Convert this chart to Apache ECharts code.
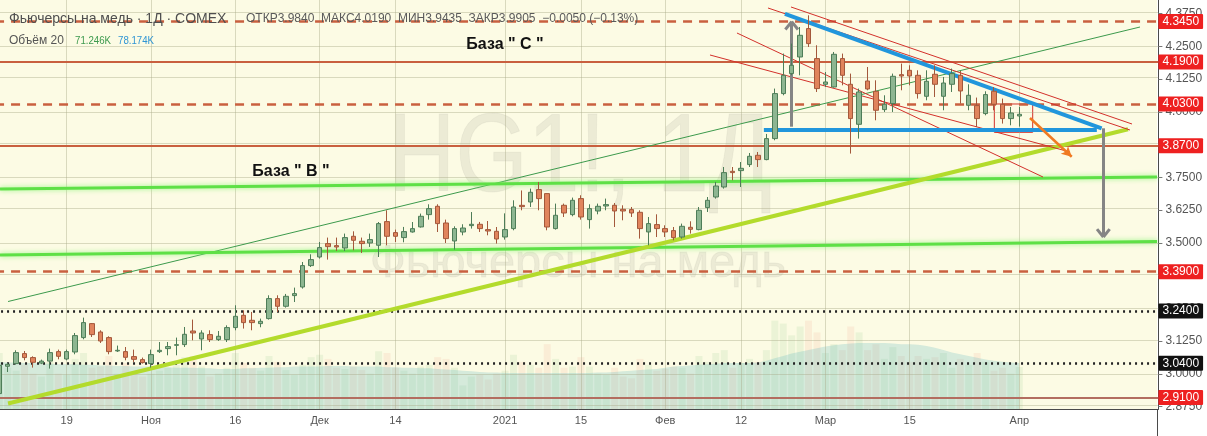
<!DOCTYPE html>
<html>
<head>
<meta charset="utf-8">
<script src="https://cdn.jsdelivr.net/npm/echarts@6/dist/echarts.min.js"></script>
<style>
html,body{margin:0;padding:0;background:#fff;}
#c{width:1207px;height:436px;}
</style>
</head>
<body>
<div id="c"></div>
<script>
// Trading days shown on the chart (COMEX copper, daily)
const dates = [
 '2020-10-07','2020-10-08','2020-10-09','2020-10-12','2020-10-13','2020-10-14','2020-10-15','2020-10-16',
 '2020-10-19','2020-10-20','2020-10-21','2020-10-22','2020-10-23','2020-10-26','2020-10-27','2020-10-28','2020-10-29','2020-10-30',
 '2020-11-02','2020-11-03','2020-11-04','2020-11-05','2020-11-06','2020-11-09','2020-11-10','2020-11-11','2020-11-12','2020-11-13',
 '2020-11-16','2020-11-17','2020-11-18','2020-11-19','2020-11-20','2020-11-23','2020-11-24','2020-11-25','2020-11-27','2020-11-30',
 '2020-12-01','2020-12-02','2020-12-03','2020-12-04','2020-12-07','2020-12-08','2020-12-09','2020-12-10','2020-12-11',
 '2020-12-14','2020-12-15','2020-12-16','2020-12-17','2020-12-18','2020-12-21','2020-12-22','2020-12-23','2020-12-24',
 '2020-12-28','2020-12-29','2020-12-30','2020-12-31',
 '2021-01-04','2021-01-05','2021-01-06','2021-01-07','2021-01-08','2021-01-11','2021-01-12','2021-01-13','2021-01-14','2021-01-15',
 '2021-01-19','2021-01-20','2021-01-21','2021-01-22','2021-01-25','2021-01-26','2021-01-27','2021-01-28','2021-01-29',
 '2021-02-01','2021-02-02','2021-02-03','2021-02-04','2021-02-05','2021-02-08','2021-02-09','2021-02-10','2021-02-11','2021-02-12',
 '2021-02-16','2021-02-17','2021-02-18','2021-02-19','2021-02-22','2021-02-23','2021-02-24','2021-02-25','2021-02-26',
 '2021-03-01','2021-03-02','2021-03-03','2021-03-04','2021-03-05','2021-03-08','2021-03-09','2021-03-10','2021-03-11','2021-03-12',
 '2021-03-15','2021-03-16','2021-03-17','2021-03-18','2021-03-19','2021-03-22','2021-03-23','2021-03-24','2021-03-25','2021-03-26',
 '2021-03-29','2021-03-30','2021-03-31','2021-04-01'
];
// Empty slots to the right of the last bar
const futureDates = [
 '2021-04-05','2021-04-06','2021-04-07','2021-04-08','2021-04-09','2021-04-12','2021-04-13','2021-04-14',
 '2021-04-15','2021-04-16','2021-04-19','2021-04-20','2021-04-21','2021-04-22','2021-04-23','2021-04-26'
];

// [open, high, low, close]
const ohlc = [
 [2.9245,3.0400,2.9200,3.0325],[3.0287,3.0413,3.0069,3.0363],[3.0390,3.0897,3.0350,3.0809],[3.0772,3.0871,3.0516,3.0619],
 [3.0619,3.0668,3.0237,3.0439],[3.0408,3.0542,3.0370,3.0485],[3.0485,3.0962,3.0199,3.0809],[3.0847,3.0924,3.0553,3.0668],
 [3.0565,3.0924,3.0516,3.0847],[3.0833,3.1558,3.0745,3.1458],[3.1382,3.2145,3.1317,3.1954],[3.1916,3.1939,3.1405,3.1496],
 [3.1596,3.1661,3.1176,3.1252],[3.1382,3.1432,3.0745,3.0847],[3.0872,3.1077,3.0833,3.0898],[3.0847,3.1023,3.0516,3.0630],
 [3.0657,3.0924,3.0451,3.0553],[3.0542,3.0619,3.0390,3.0428],
 [3.0390,3.0924,3.0237,3.0733],[3.0847,3.1214,3.0794,3.0897],[3.0962,3.1214,3.0707,3.1039],[3.1087,3.1382,3.0707,3.1113],
 [3.1115,3.1787,3.1023,3.1508],[3.1634,3.2069,3.1279,3.1558],[3.1329,3.1661,3.0897,3.1558],[3.1496,3.1661,3.1214,3.1306],
 [3.1306,3.1634,3.1254,3.1432],[3.1306,3.1850,3.1214,3.1764],
 [3.1764,3.2615,3.1661,3.2195],[3.2233,3.2424,3.1726,3.1954],[3.2042,3.2361,3.1661,3.1954],[3.1916,3.2107,3.1776,3.2004],
 [3.2107,3.2997,3.2069,3.2871],[3.2871,3.2997,3.2359,3.2577],[3.2577,3.3048,3.2526,3.2958],[3.2985,3.3290,3.2740,3.3061],
 [3.3313,3.4268,3.3252,3.4130],[3.4130,3.4562,3.4077,3.4359],
 [3.4458,3.5031,3.4397,3.4817],[3.4970,3.5199,3.4359,3.4855],[3.4893,3.5199,3.4687,3.4840],[3.4802,3.5352,3.4687,3.5199],
 [3.5249,3.5439,3.4714,3.5096],[3.5058,3.5199,3.4611,3.4970],[3.4993,3.5352,3.4842,3.5122],[3.4905,3.5794,3.4458,3.5733],
 [3.5809,3.6241,3.4905,3.5249],
 [3.5389,3.5504,3.5031,3.5249],[3.5199,3.5606,3.5019,3.5427],[3.5414,3.5794,3.5389,3.5541],[3.5606,3.6115,3.5581,3.6012],
 [3.6076,3.6470,3.5885,3.6305],[3.6393,3.6470,3.5412,3.5733],[3.5756,3.5885,3.4993,3.5160],[3.5069,3.5630,3.4741,3.5542],
 [3.5412,3.5708,3.5287,3.5565],[3.5656,3.6174,3.5542,3.5707],[3.5707,3.5796,3.5414,3.5542],[3.5504,3.5832,3.5287,3.5450],
 [3.5439,3.5603,3.4970,3.5145],
 [3.5222,3.6124,3.5122,3.5504],[3.5542,3.6622,3.5478,3.6367],[3.6430,3.6998,3.6241,3.6380],[3.6558,3.7069,3.6367,3.6928],
 [3.7031,3.7322,3.6241,3.6687],[3.6878,3.6890,3.5478,3.5603],[3.5542,3.6496,3.5504,3.6050],[3.6432,3.6496,3.5985,3.6138],
 [3.6076,3.6725,3.6012,3.6622],[3.6687,3.6814,3.5885,3.5985],
 [3.5885,3.6470,3.5542,3.6305],[3.6214,3.6496,3.6088,3.6393],[3.6405,3.6687,3.6241,3.6458],[3.6432,3.6519,3.5603,3.6214],
 [3.6279,3.6432,3.5859,3.6214],[3.6267,3.6367,3.5985,3.6138],[3.6164,3.6241,3.5160,3.5542],[3.5414,3.5985,3.4905,3.5733],
 [3.5695,3.6088,3.5221,3.5542],
 [3.5542,3.5668,3.5221,3.5414],[3.5466,3.5603,3.5096,3.5199],[3.5221,3.5733,3.5160,3.5630],[3.5592,3.5821,3.5352,3.5516],
 [3.5504,3.6367,3.5478,3.6241],[3.6344,3.6748,3.6176,3.6622],[3.6748,3.7322,3.6687,3.7168],[3.7130,3.7893,3.7069,3.7679],
 [3.7729,3.7893,3.7386,3.7679],[3.7755,3.8084,3.7130,3.7843],
 [3.7985,3.8428,3.7893,3.8302],[3.8340,3.8466,3.7893,3.8176],[3.8176,3.9155,3.8150,3.8977],[3.8977,4.0886,3.8913,4.0695],
 [4.0695,4.2222,4.0630,4.1393],[4.1458,4.2603,4.1393,4.1775],[4.2092,4.3237,4.1393,4.2920],[4.3176,4.3683,4.2474,4.2603],
 [4.2031,4.2539,4.0756,4.0886],
 [4.1050,4.1519,4.0947,4.1138],[4.0947,4.2283,4.0924,4.2195],[4.2031,4.2222,4.1012,4.1393],[4.1050,4.1458,3.8405,3.9741],
 [3.9523,4.0886,3.8977,4.0756],[4.1176,4.1710,4.0821,4.0871],[4.0782,4.1202,3.9676,4.0058],[4.0084,4.0630,3.9993,4.0287],
 [4.0313,4.1458,3.9993,4.1355],[4.1418,4.1840,4.0821,4.1367],
 [4.1584,4.1775,4.1012,4.1367],[4.1393,4.1584,4.0504,4.0695],[4.0592,4.1584,4.0439,4.1164],[4.1432,4.1775,4.0565,4.1050],
 [4.0592,4.1329,4.0058,4.1099],[4.1050,4.1650,4.0756,4.1458],[4.1393,4.1558,4.0313,4.0795],[4.0248,4.1050,4.0058,4.0630],
 [4.0237,4.0543,3.9420,3.9741],[3.9932,4.0783,3.9866,4.0657],
 [4.0783,4.0947,4.0058,4.0287],[4.0287,4.0504,3.9550,3.9741],[3.9741,4.0184,3.9485,3.9955],[3.9840,4.0190,3.9435,3.9905]
];

// Daily volume, thousands of contracts
const volume = [
 95,70,65,75,60,55,80,60,
 58,85,95,70,72,90,60,78,62,55,
 60,65,70,75,88,90,72,55,60,70,
 95,78,70,65,90,80,66,58,75,88,
 92,85,70,68,72,66,60,98,95,
 70,65,60,72,75,88,85,70,40,55,58,50,60,
 65,92,80,75,70,110,85,70,72,88,
 72,60,58,70,55,52,85,75,65,
 68,72,70,60,90,80,95,100,70,78,
 85,80,100,150,145,125,140,150,130,
 95,110,100,140,130,100,110,85,105,90,
 80,90,85,88,95,70,85,75,95,80,
 65,70,60,71.246
];
// Volume 20-period average, thousands
const volumeMA = [
 80,79,79,78,78,77,77,76,
 76,76,75,75,74,74,73,73,72,72,
 72,71,71,70,70,70,69,69,68,68,
 68,69,69,70,70,71,71,72,72,72,
 72,73,73,73,72,72,72,72,71,
 71,70,70,69,69,68,67,66,65,64,63,62,62,
 61,61,61,61,61,61,61,61,61,61,
 61,62,62,63,64,65,66,67,68,
 70,72,73,74,75,76,77,78,78,78,
 78,79,82,86,90,94,97,100,103,
 106,108,110,111,112,112,112,112,111,110,
 110,109,107,104,100,96,93,90,87,84,
 82,80,79,78.174
];

const xTickLabels = {
 '2020-10-19':'19','2020-11-02':'Ноя','2020-11-16':'16','2020-12-01':'Дек','2020-12-14':'14',
 '2021-01-04':'2021','2021-01-15':'15','2021-02-01':'Фев','2021-02-12':'12','2021-03-01':'Мар',
 '2021-03-15':'15','2021-04-01':'Апр'
};
const priceTicks = [2.875,3.0,3.125,3.25,3.375,3.5,3.625,3.75,3.875,4.0,4.125,4.25,4.375];

// Horizontal levels marked on the chart
const levelPrices = [4.3450, 4.1900, 4.0300, 3.8700, 3.3900, 3.2400, 3.0400, 2.9100];
const lastPrice = 3.9905;

// Trend lines and annotations: [bar index, price] pairs (bar 0 = 2020-10-19)
const trendThinGreen = [[-6.96, 3.2759], [127.32, 4.3236]];
const trendSupport = [[-6.96, 2.8865], [125.9, 3.9332]];
const channelGreenUpper = [[-7.91, 3.7053], [129.34, 3.7511]];
const channelGreenLower = [[-7.91, 3.4534], [129.34, 3.5052]];
const triangleTop = [[85.2, 4.3733], [122.77, 3.9370]];
const triangleBase = [[82.7, 3.9305], [122.2, 3.9305]];
const redChannel = [
 [[83.19, 4.3962], [126.13, 3.9305]],
 [[85.92, 4.4000], [126.37, 3.9534]],
 [[79.51, 4.3007], [115.81, 3.7511]],
 [[76.31, 4.2168], [119.02, 3.8466]]
];
const arrowUp = [[86.0, 3.9431], [86.0, 4.3440]];
const arrowDown = [[122.97, 3.9370], [122.97, 3.5221]];
const arrowForecast = [[114.27, 3.9763], [119.22, 3.8286]];
const boxRecent = [[110.04, 4.0298], [114.59, 3.9217]];

// ---------------------------------------------------------------
const categories = dates.concat(futureDates);
const N = categories.length;
const BAND = 8.43;
const GRID_LEFT = -4.95;
const GRID_W = N * BAND;
const PLOT_H = 409;
const P_MIN = 2.8657, P_MAX = 4.4267;
const FIRST = -8; // index of first bar relative to 2020-10-19
const XMAX = FIRST + N - 0.5;

const UP_FILL = '#8db691', UP_LINE = '#4e7d58';
const DN_FILL = '#e0845c', DN_LINE = '#a3583b';

const candleData = ohlc.map(d => [d[0], d[3], d[2], d[1]]);
const volData = volume.map((v, i) => ({
  value: v * 1000,
  itemStyle: { color: ohlc[i][3] >= ohlc[i][0] ? 'rgba(150,205,140,0.16)' : 'rgba(240,170,140,0.16)' }
}));
const maData = volumeMA.map(v => v * 1000);

function seg(a, style, startExtra, endExtra) {
  return [Object.assign({ coord: a[0], lineStyle: style }, startExtra || {}),
          Object.assign({ coord: a[1] }, endExtra || {})];
}
function chevron(tip, dir, color) {
  const dx = 0.75, dp = 0.03 * dir;
  return [
    seg([[tip[0] - dx, tip[1] - dp], tip], { color, width: 3, type: 'solid' }),
    seg([[tip[0] + dx, tip[1] - dp], tip], { color, width: 3, type: 'solid' })
  ];
}

const RED = '#c9603f';
const TAG_FONT = 'Liberation Sans, Arial, sans-serif';
const levelLook = {
  '4.345': { type: [9, 7], width: 2.5, color: RED, tag: '#ee2020' },
  '4.19':  { type: 'solid', width: 2, color: RED, tag: '#ee2020' },
  '4.03':  { type: [9, 7], width: 2.5, color: RED, tag: '#ee2020' },
  '3.87':  { type: 'solid', width: 2, color: RED, tag: '#ee2020' },
  '3.39':  { type: [9, 7], width: 2.5, color: RED, tag: '#ee2020' },
  '3.24':  { type: [2, 4], width: 2.5, color: '#222', tag: '#111' },
  '3.04':  { type: [2, 4], width: 2.5, color: '#222', tag: '#111' },
  '2.91':  { type: 'solid', width: 2, color: '#b36d60', tag: '#ee2020' }
};
function tag(text, bg) {
  return { show: true, position: 'end', distance: 0, formatter: text, backgroundColor: bg, color: '#fff',
    fontSize: 12, fontFamily: TAG_FONT, padding: [2, 4, 1, 4], borderRadius: 1 };
}

const levelLines = levelPrices.map(p => {
  const s = levelLook[String(p)];
  return [
    { coord: [FIRST - 0.5, p], lineStyle: { type: s.type, width: s.width, color: s.color }, label: tag(p.toFixed(4), s.tag) },
    { coord: [XMAX, p] }
  ];
});
levelLines.push([
  { coord: [XMAX - 0.05, lastPrice], lineStyle: { width: 0, opacity: 0 }, label: tag(lastPrice.toFixed(4), '#6d9c7d') },
  { coord: [XMAX, lastPrice] }
]);

const drawings = [
  seg(trendThinGreen, { color: '#3c9a4c', width: 1, type: 'solid' }),
  seg(channelGreenUpper, { color: '#5ee046', width: 3, type: 'solid', shadowColor: 'rgba(140,245,120,0.9)', shadowBlur: 5 }),
  seg(channelGreenLower, { color: '#5ee046', width: 3, type: 'solid', shadowColor: 'rgba(140,245,120,0.9)', shadowBlur: 5 }),
  seg(trendSupport, { color: '#b3db2c', width: 4, type: 'solid' }),
  ...redChannel.map(l => seg(l, { color: '#d3312b', width: 1, type: 'solid' })),
  seg(triangleTop, { color: '#2196dc', width: 4, type: 'solid' }),
  seg(triangleBase, { color: '#2196dc', width: 4, type: 'solid' }),
  seg(arrowUp, { color: '#858585', width: 3, type: 'solid' }),
  ...chevron(arrowUp[1], 1, '#858585'),
  seg(arrowDown, { color: '#858585', width: 3, type: 'solid' }),
  ...chevron(arrowDown[1], -1, '#858585'),
  seg(arrowForecast, { color: '#f07a22', width: 2.5, type: 'solid' }, { symbol: 'none' }, { symbol: 'arrow', symbolSize: [8, 10] })
];

const gridLines = priceTicks.map(p => ({ yAxis: p }))
  .concat(Object.keys(xTickLabels).map(d => ({ xAxis: d })));

const chart = echarts.init(document.getElementById('c'), null, { renderer: 'canvas', width: 1207, height: 436 });
const font = 'Liberation Sans, Arial, sans-serif';

chart.setOption({
  backgroundColor: '#ffffff',
  animation: false,
  grid: [
    { left: GRID_LEFT, top: 0, width: GRID_W, height: PLOT_H, containLabel: false, outerBoundsMode: 'none' },
    { left: GRID_LEFT, top: 300, width: GRID_W, height: PLOT_H - 300, containLabel: false, outerBoundsMode: 'none' }
  ],
  xAxis: [
    {
      type: 'category', data: categories, gridIndex: 0, boundaryGap: true,
      axisLine: { onZero: false, lineStyle: { color: '#4a4a4a', width: 1 } },
      axisTick: { alignWithLabel: true, length: 4, lineStyle: { color: '#777' },
        interval: (i, v) => xTickLabels[v] !== undefined },
      axisLabel: { interval: (i, v) => xTickLabels[v] !== undefined, formatter: v => xTickLabels[v] || '',
        color: '#555', fontSize: 11, fontFamily: font, margin: 6 },
      splitLine: { show: false }
    },
    { type: 'value', gridIndex: 0, min: FIRST - 0.5, max: XMAX, show: false, axisLine: { onZero: false } },
    { type: 'category', data: categories, gridIndex: 1, boundaryGap: true, show: false }
  ],
  yAxis: [
    {
      type: 'value', gridIndex: 0, position: 'right', min: P_MIN, max: P_MAX, scale: true,
      axisLine: { show: true, onZero: false, lineStyle: { color: '#4a4a4a' } },
      axisTick: { show: true, length: 4, customValues: priceTicks, lineStyle: { color: '#777' } },
      axisLabel: { customValues: priceTicks, formatter: v => v.toFixed(4), color: '#555', fontSize: 12,
        fontFamily: font, margin: 7 },
      splitLine: { show: false }
    },
    { type: 'value', gridIndex: 1, min: 0, max: 185000, show: false, axisLine: { onZero: false } }
  ],
  graphic: [
    { type: 'rect', z: -10, shape: { x: 0, y: 0, width: 1157, height: PLOT_H }, style: { fill: '#fcfbe4' }, silent: true },
    { type: 'line', z: 60, shape: { x1: 1157.5, y1: PLOT_H, x2: 1157.5, y2: 436 }, style: { stroke: '#4a4a4a', lineWidth: 1 }, silent: true },
    { type: 'text', z: -9, x: 580, y: 160, scaleX: 0.83, silent: true,
      style: { text: 'HG1!, 1Д', font: '500 112px ' + font, fill: 'rgba(140,140,125,0.14)',
        stroke: 'rgba(120,120,110,0.08)', lineWidth: 1, textAlign: 'center', textVerticalAlign: 'middle' } },
    { type: 'text', z: -9, x: 578, y: 264, silent: true,
      style: { text: 'Фьючерсы на медь', font: '47px ' + font, fill: 'rgba(140,140,125,0.14)',
        stroke: 'rgba(120,120,110,0.08)', lineWidth: 1, textAlign: 'center', textVerticalAlign: 'middle' } },
    { type: 'text', z: 50, x: 9, y: 19, silent: true,
      style: { text: 'Фьючерсы на медь · 1Д · COMEX', font: '14px ' + font, fill: '#4f4f4f', textVerticalAlign: 'middle' } },
    { type: 'text', z: 50, x: 246, y: 19, silent: true,
      style: { text: 'ОТКР3.9840  МАКС4.0190  МИН3.9435  ЗАКР3.9905  −0.0050 (−0.13%)', font: '12px ' + font,
        fill: '#5a5a5a', textVerticalAlign: 'middle' } },
    { type: 'text', z: 50, x: 9, y: 41, silent: true,
      style: { text: 'Объём 20', font: '12px ' + font, fill: '#555', textVerticalAlign: 'middle' } },
    { type: 'text', z: 50, x: 75, y: 41, scaleX: 0.88, silent: true,
      style: { text: (volume[volume.length - 1]).toFixed(3) + 'K', font: '11px ' + font, fill: '#3d9a4e', textVerticalAlign: 'middle' } },
    { type: 'text', z: 50, x: 118, y: 41, scaleX: 0.88, silent: true,
      style: { text: (volumeMA[volumeMA.length - 1]).toFixed(3) + 'K', font: '11px ' + font, fill: '#2f95d4', textVerticalAlign: 'middle' } },
    { type: 'text', z: 50, x: 505, y: 45, silent: true,
      style: { text: 'База " С "', font: 'bold 16px ' + font, fill: '#111', textAlign: 'center', textVerticalAlign: 'middle' } },
    { type: 'text', z: 50, x: 291, y: 172, silent: true,
      style: { text: 'База " В "', font: 'bold 16px ' + font, fill: '#111', textAlign: 'center', textVerticalAlign: 'middle' } }
  ],
  series: [
    {
      name: 'grid', type: 'line', xAxisIndex: 0, yAxisIndex: 0, data: [], silent: true, z: 1,
      markLine: { silent: true, symbol: ['none', 'none'], label: { show: false },
        lineStyle: { color: 'rgba(170,170,135,0.42)', width: 1, type: 'solid' }, data: gridLines }
    },
    {
      name: 'Объём', type: 'bar', xAxisIndex: 2, yAxisIndex: 1, data: volData, barWidth: 7, z: 2, silent: true
    },
    {
      name: 'Объём MA', type: 'line', xAxisIndex: 2, yAxisIndex: 1, data: maData, symbol: 'none', z: 3,
      lineStyle: { width: 0 }, areaStyle: { color: 'rgba(95,185,190,0.36)' }, silent: true
    },
    {
      name: 'HG1!', type: 'candlestick', xAxisIndex: 0, yAxisIndex: 0, data: candleData, barWidth: 5, z: 5,
      itemStyle: { color: UP_FILL, color0: DN_FILL, borderColor: UP_LINE, borderColor0: DN_LINE, borderWidth: 1 }
    },
    {
      name: 'levels', type: 'line', xAxisIndex: 1, yAxisIndex: 0, data: [], z: 6, silent: true,
      markLine: { silent: true, symbol: ['none', 'none'], animation: false, data: levelLines }
    },
    {
      name: 'drawings', type: 'line', xAxisIndex: 1, yAxisIndex: 0, data: [], z: 7, silent: true,
      markLine: { silent: true, symbol: ['none', 'none'], label: { show: false }, animation: false, data: drawings },
      markArea: { silent: true, itemStyle: { color: 'rgba(0,0,0,0)', borderColor: '#d3312b', borderWidth: 1 },
        data: [[{ coord: boxRecent[0] }, { coord: boxRecent[1] }]] }
    }
  ]
});
</script>
</body>
</html>
